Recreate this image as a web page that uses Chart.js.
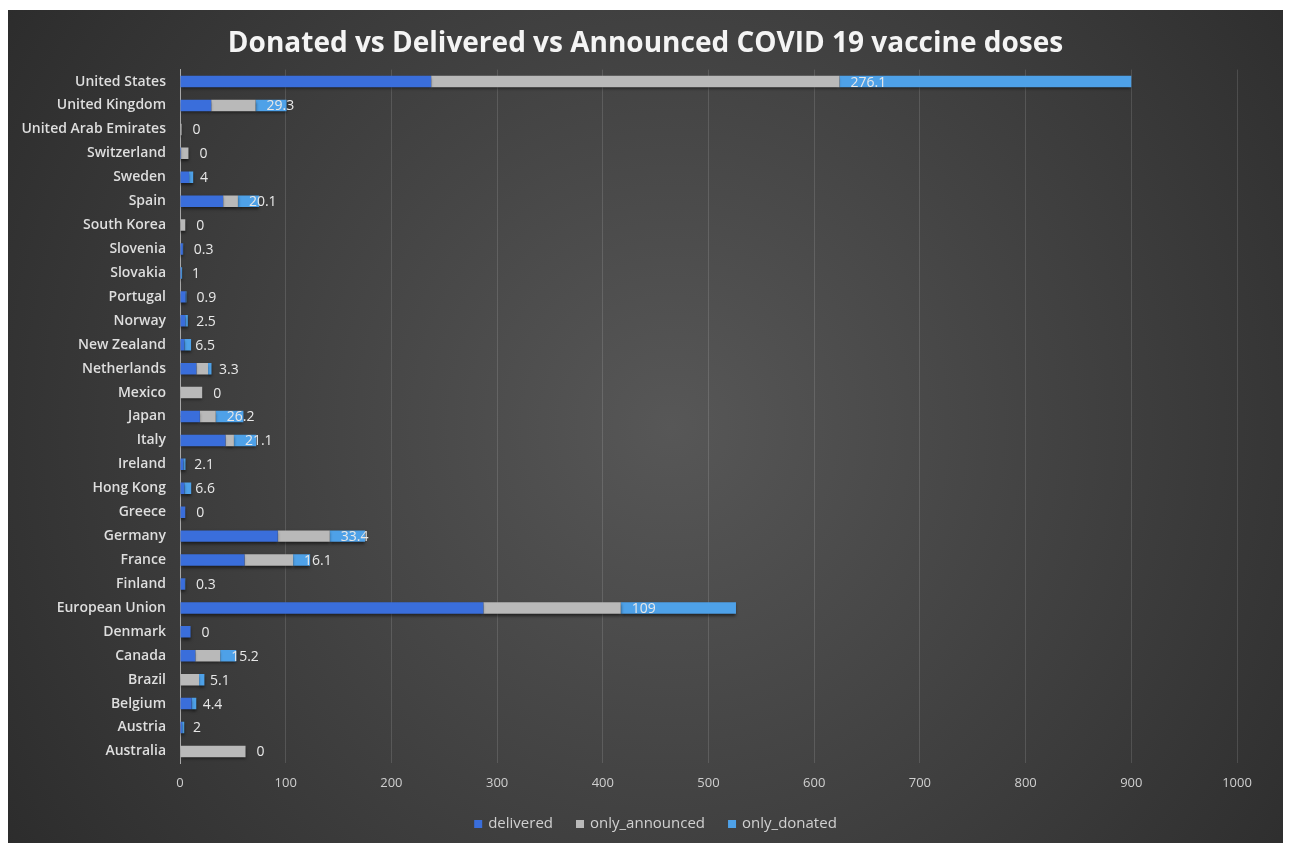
<!DOCTYPE html>
<html>
<head>
<meta charset="utf-8">
<script src="https://cdn.jsdelivr.net/npm/chart.js@4"></script>
<style>
  html, body { margin: 0; padding: 0; background: #fff; }
  #wrap { position: absolute; left: 8px; top: 10px; width: 1275px; height: 833px; }
</style>
</head>
<body>
<div id="wrap"><canvas id="chart"></canvas></div>
<script>
const countries = ['United States', 'United Kingdom', 'United Arab Emirates', 'Switzerland', 'Sweden', 'Spain',
    'South Korea', 'Slovenia', 'Slovakia', 'Portugal', 'Norway', 'New Zealand', 'Netherlands', 'Mexico', 'Japan',
    'Italy', 'Ireland', 'Hong Kong', 'Greece', 'Germany', 'France', 'Finland', 'European Union', 'Denmark',
    'Canada', 'Brazil', 'Belgium', 'Austria', 'Australia'];

// doses in millions
const delivered = [237.6, 29.5, 0, 1, 8.5, 40.8, 0, 2.7, 1, 5.2, 4.9, 4, 15.5, 0, 18.8,
    43, 3.1, 4, 5, 92.5, 61, 4.7, 287, 10, 14.5, 0, 11, 2, 0];
const onlyAnnounced = [386.3, 42, 1.5, 7, 0, 14, 5, 0, 0, 0, 0, 0, 11, 21, 15,
    8, 0, 0, 0, 49.2, 46, 0, 130, 0, 23.5, 18, 0, 0, 62];
const onlyDonated = [276.1, 29.3, 0, 0, 4, 20.1, 0, 0.3, 1, 0.9, 2.5, 6.5, 3.3, 0, 26.2,
    21.1, 2.1, 6.6, 0, 33.4, 16.1, 0.3, 109, 0, 15.2, 5.1, 4.4, 2, 0];

const xTicks = [0, 100, 200, 300, 400, 500, 600, 700, 800, 900, 1000];

const FONT = "'Open Sans', 'DejaVu Sans', sans-serif";

// dark radial backdrop behind everything
const backdrop = {
    id: 'backdrop',
    beforeDraw(chart) {
        const { ctx, width, height } = chart;
        const g = ctx.createRadialGradient(width * 0.52, height * 0.5, 0, width * 0.52, height * 0.5, width * 0.62);
        g.addColorStop(0, '#575757');
        g.addColorStop(1, '#2c2c2c');
        ctx.save();
        ctx.fillStyle = g;
        ctx.fillRect(0, 0, width, height);
        ctx.restore();
    }
};

// soft drop shadow under the bars
const barShadow = {
    id: 'barShadow',
    beforeDatasetsDraw(chart) {
        const ctx = chart.ctx;
        ctx.save();
        ctx.shadowColor = 'rgba(0,0,0,0.55)';
        ctx.shadowBlur = 3;
        ctx.shadowOffsetY = 2;
    },
    afterDatasetsDraw(chart) {
        chart.ctx.restore();
    }
};

// only_donated values written at the start of their segment
const donatedLabels = {
    id: 'donatedLabels',
    afterDatasetsDraw(chart) {
        const { ctx } = chart;
        const meta = chart.getDatasetMeta(2);
        ctx.save();
        ctx.font = '14px ' + FONT;
        ctx.fillStyle = '#e8e8e8';
        ctx.textAlign = 'left';
        ctx.textBaseline = 'middle';
        meta.data.forEach((bar, i) => {
            ctx.fillText(String(onlyDonated[i]), bar.base + 11, bar.y + 1);
        });
        ctx.restore();
    }
};

// legend row at the bottom, spaced wider than the built-in one
const bottomLegend = {
    id: 'bottomLegend',
    afterDraw(chart) {
        const { ctx, width, height } = chart;
        const box = 8, gap = 6, spacing = 23;
        ctx.save();
        ctx.font = '15px ' + FONT;
        ctx.textBaseline = 'middle';
        ctx.textAlign = 'left';
        const items = chart.data.datasets.map(ds => ({
            text: ds.label, color: ds.backgroundColor, w: ctx.measureText(ds.label).width
        }));
        const total = items.reduce((s, it) => s + box + gap + it.w, 0) + spacing * (items.length - 1);
        let x = width / 2 + 10 - total / 2;
        const y = height - 19;
        items.forEach(it => {
            ctx.fillStyle = it.color;
            ctx.fillRect(x, y - box / 2, box, box);
            x += box + gap;
            ctx.fillStyle = '#d0d0d0';
            ctx.fillText(it.text, x, y);
            x += it.w + spacing;
        });
        ctx.restore();
    }
};

new Chart(document.getElementById('chart'), {
    type: 'bar',
    data: {
        labels: countries,
        datasets: [
            { label: 'delivered', data: delivered, backgroundColor: '#3a6edb' },
            { label: 'only_announced', data: onlyAnnounced, backgroundColor: '#b9b9b9' },
            { label: 'only_donated', data: onlyDonated, backgroundColor: '#4ea1e8' }
        ]
    },
    options: {
        indexAxis: 'y',
        responsive: true,
        maintainAspectRatio: false,
        animation: false,
        barPercentage: 0.48,
        categoryPercentage: 1,
        layout: { padding: { left: 0, right: 0, top: 0, bottom: 40 } },
        scales: {
            x: {
                stacked: true,
                min: 0,
                max: 1000,
                afterBuildTicks(scale) {
                    scale.ticks = xTicks.map(v => ({ value: v }));
                },
                grid: { color: 'rgba(255,255,255,0.13)', drawTicks: false },
                border: { display: false },
                ticks: {
                    color: '#cfcfcf',
                    font: { family: FONT, size: 13 },
                    padding: 12,
                    callback: v => String(v)
                }
            },
            y: {
                stacked: true,
                afterFit(scale) { scale.width = 172; },
                grid: { display: false },
                border: { color: '#a8a8a8', width: 1 },
                ticks: { color: '#dedede', font: { family: FONT, size: 14, weight: '600' }, padding: 6 }
            },
            // empty strip on the right so the plot stops short of the edge
            rightGap: {
                type: 'category',
                axis: 'y',
                position: 'right',
                afterFit(scale) { scale.width = 46; },
                grid: { display: false },
                border: { display: false },
                ticks: { display: false }
            }
        },
        plugins: {
            title: {
                display: true,
                text: 'Donated vs Delivered vs Announced COVID 19 vaccine doses',
                color: '#f4f4f4',
                font: { family: FONT, size: 28, weight: 'bold' },
                padding: { top: 17, bottom: 9 }
            },
            legend: { display: false },
            tooltip: { enabled: false }
        }
    },
    plugins: [backdrop, barShadow, donatedLabels, bottomLegend]
});
</script>
</body>
</html>
